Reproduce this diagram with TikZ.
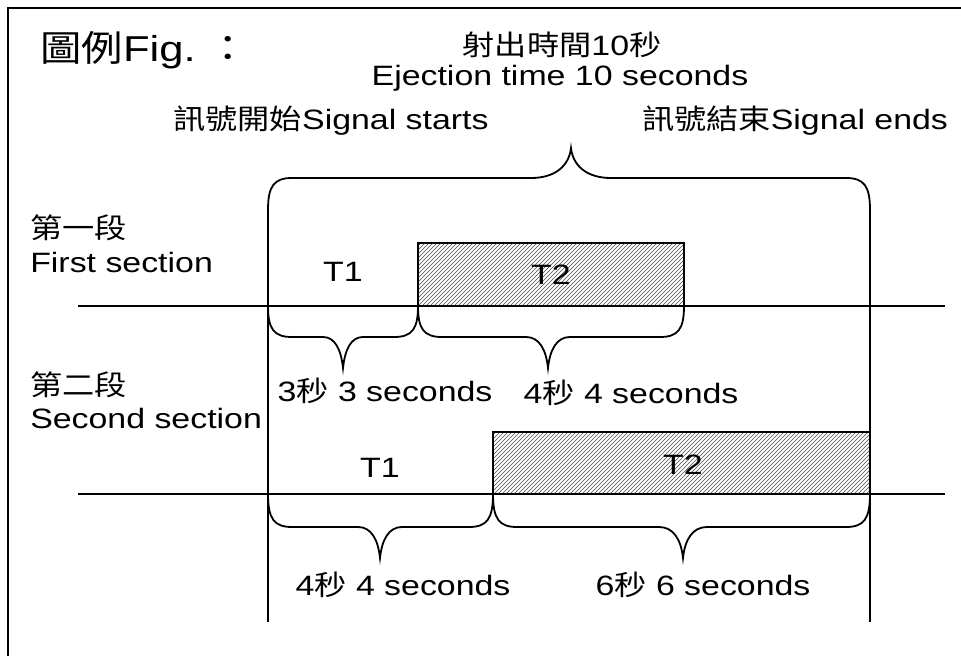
\documentclass[tikz,border=0pt]{standalone}
\usepackage{fontspec}
\setmainfont{Liberation Sans}[FakeStretch=1.21]
\newfontfamily\cjk{Noto Sans CJK TC}[FakeStretch=1.15]
\usetikzlibrary{patterns}

\tikzset{
  timeline/.style={line width=1.35pt},
  hatchbox/.style={draw, line width=1.35pt, pattern=north east lines, pattern color=black!70},
  lbl/.style={font=\fontsize{21}{24}\selectfont, inner sep=0pt},
}
% brace: x left, x right, x tip, y ends, y flat, y tip, half width of tip
\newcommand{\timebrace}[7]{%
  \draw[timeline] (#1,#4) .. controls (#1,{#4+0.75*(#5-#4)}) and ({#1+6},#5) .. ({#1+24},#5)
    -- ({#3-#7},#5) .. controls ({#3-0.4*#7},#5) and ({#3-2},{#5+0.4*(#6-#5)}) .. (#3,#6)
    .. controls ({#3+2},{#5+0.4*(#6-#5)}) and ({#3+0.4*#7},#5) .. ({#3+#7},#5)
    -- ({#2-24},#5) .. controls ({#2-6},#5) and (#2,{#4+0.75*(#5-#4)}) .. (#2,#4);}

\begin{document}
\begin{tikzpicture}[x=0.75pt, y=-0.75pt]
\useasboundingbox (0,0) rectangle (961,656);
\draw[line width=1.9pt] (8,656) -- (8,8) -- (961,8);

\node[lbl, font=\fontsize{27}{30}\selectfont, anchor=west] (fig) at (40,50) {{\cjk 圖例}Fig.~{\cjk ：}};
\node[lbl] (tcn) at (562,45) {{\cjk 射出時間}10{\cjk 秒}};
\node[lbl] (ten) at (560,78) {Ejection time 10 seconds};
\node[lbl] (start) at (331,121) {{\cjk 訊號開始}Signal starts};
\node[lbl] (end) at (795,121) {{\cjk 訊號結束}Signal ends};

% start and end of the signal
\coordinate (S0) at (268,210);
\coordinate (S1) at (268,622);
\coordinate (E0) at (870,210);
\coordinate (E1) at (870,622);
\draw[timeline] (S0) -- (S1);
\draw[timeline] (E0) -- (E1);
\timebrace{268}{870}{571}{210}{178}{148}{40}

% first section
\node[lbl, anchor=west] (s1cn) at (30,228) {\cjk 第一段};
\node[lbl, anchor=west] (s1en) at (30,262) {First section};
\coordinate (L1a) at (78,306);
\coordinate (L1b) at (945,306);
\draw[timeline] (L1a) -- (L1b);
\draw[hatchbox] (418,306) rectangle (684,243);
\node[lbl] (a1) at (343,272) {T1};
\node[lbl] (a2) at (551,275) {T2};
\timebrace{268}{418}{343}{306}{337}{368}{20}
\timebrace{418}{684}{548}{306}{337}{368}{22}
\node[lbl] (a1t) at (385,391) {3{\cjk 秒} 3 seconds};
\node[lbl] (a2t) at (631,393) {4{\cjk 秒} 4 seconds};

% second section
\node[lbl, anchor=west] (s2cn) at (30,385) {\cjk 第二段};
\node[lbl, anchor=west] (s2en) at (30,418) {Second section};
\coordinate (L2a) at (78,494);
\coordinate (L2b) at (945,494);
\draw[timeline] (L2a) -- (L2b);
\draw[hatchbox] (493,494) rectangle (870,432);
\node[lbl] (b1) at (380,468) {T1};
\node[lbl] (b2) at (683,465) {T2};
\timebrace{268}{493}{380}{494}{527}{558}{22}
\timebrace{493}{870}{683}{494}{527}{558}{24}
\node[lbl] (b1t) at (403,585) {4{\cjk 秒} 4 seconds};
\node[lbl] (b2t) at (703,585) {6{\cjk 秒} 6 seconds};
\end{tikzpicture}
\end{document}
